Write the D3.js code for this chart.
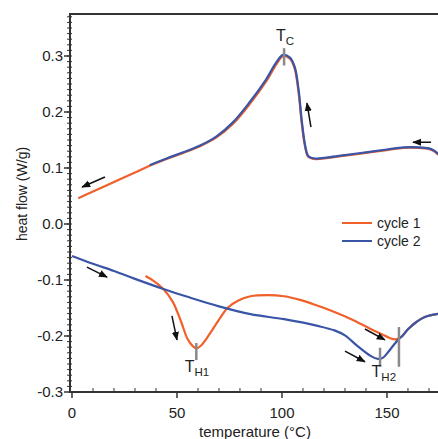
<!DOCTYPE html>
<html><head><meta charset="utf-8">
<script src="https://cdn.jsdelivr.net/npm/d3@7"></script>
<style>body{margin:0;background:#fff}svg{display:block}text{font-family:"Liberation Sans",Arial,sans-serif;fill:#222}</style>
</head><body>
<script>
// ---- data ----
const coolT1 = [3, 10, 20, 30, 37, 45, 53, 61, 69, 76.7, 84.8, 92.7, 97.5, 100.6, 103.8, 106, 107.8, 109.4, 111, 112.5, 115.7, 122, 130, 140, 150, 158, 165, 170, 172.5, 175];
const coolV1 = [0.046, 0.058, 0.075, 0.092, 0.104, 0.116, 0.127, 0.139, 0.155, 0.179, 0.215, 0.256, 0.286, 0.300, 0.295, 0.278, 0.238, 0.18, 0.138, 0.12, 0.116, 0.118, 0.122, 0.127, 0.132, 0.136, 0.136, 0.134, 0.13, 0.122];
const coolT2 = [37, 45, 53, 61, 69, 76.5, 84.5, 92.4, 97.2, 100.5, 103.8, 106.1, 107.9, 109.5, 111.1, 112.6, 115.7, 122, 130, 140, 150, 158, 165, 170, 172.5, 175];
const coolV2 = [0.105, 0.117, 0.128, 0.140, 0.157, 0.181, 0.217, 0.258, 0.288, 0.302, 0.297, 0.280, 0.240, 0.182, 0.139, 0.121, 0.117, 0.119, 0.123, 0.128, 0.133, 0.137, 0.137, 0.135, 0.131, 0.123];
const heatT1 = [35, 39, 43.5, 48, 52, 55, 57.5, 59.3, 61.5, 64, 67, 70.5, 74, 79, 85, 93, 101, 109, 117, 125, 133, 142, 147, 151, 154, 157, 160, 164, 168, 175];
const heatV1 = [-0.093, -0.102, -0.116, -0.139, -0.175, -0.205, -0.218, -0.222, -0.217, -0.205, -0.188, -0.168, -0.150, -0.137, -0.129, -0.127, -0.129, -0.136, -0.146, -0.157, -0.170, -0.187, -0.196, -0.203, -0.206, -0.201, -0.188, -0.175, -0.166, -0.16];
const heatT2 = [0, 10, 20, 30, 43.5, 55, 70, 85, 101, 117, 125, 130, 136, 142.4, 145.7, 148, 150.5, 153, 155.5, 157, 160, 164, 168, 175];
const heatV2 = [-0.057, -0.071, -0.084, -0.098, -0.116, -0.13, -0.147, -0.161, -0.170, -0.182, -0.19, -0.199, -0.218, -0.236, -0.241, -0.239, -0.229, -0.217, -0.206, -0.201, -0.188, -0.175, -0.166, -0.16];
const yMajor = [-0.3, -0.2, -0.1, 0.0, 0.1, 0.2, 0.3];
const yLabels = ["-0.3", "-0.2", "-0.1", "0.0", "0.1", "0.2", "0.3"];
const xMajor = [0, 50, 100, 150];
const xLabels = ["0", "50", "100", "150"];
// arrows: [tailT, tailV, headT, headV]
const arrows = [
  [15.7, 0.084, 4.8, 0.066],
  [113.8, 0.173, 111.9, 0.216],
  [171, 0.146, 162.4, 0.146],
  [7.1, -0.077, 16.7, -0.095],
  [47.6, -0.164, 50, -0.207],
  [139.5, -0.1875, 149, -0.207],
  [130, -0.227, 139.5, -0.246]
];
// marker bars: [T, v0, v1]
const markers = [
  [101, 0.283, 0.314],
  [59.2, -0.2125, -0.243],
  [146.7, -0.221, -0.255],
  [155.7, -0.184, -0.255]
];
const markerLabels = [
  {t: 101.5, v: 0.327, main: "T", sub: "C"},
  {t: 59.5, v: -0.265, main: "T", sub: "H1"},
  {t: 148.5, v: -0.274, main: "T", sub: "H2"}
];
const seriesNames = ["cycle 1", "cycle 2"];
const colors = ["#f0602a", "#3b55a6"];

// ---- chart ----
const W = 438, H = 439;
const svg = d3.select("body").append("svg").attr("width", W).attr("height", H);
const x = d3.scaleLinear().domain([-0.95, 174.3]).range([70, 438]);
const y = d3.scaleLinear().domain([-0.3, 0.375]).range([392, 14]);

const defs = svg.append("defs");
defs.append("marker").attr("id", "ah").attr("viewBox", "0 0 10 10").attr("refX", 9).attr("refY", 5)
  .attr("markerWidth", 6).attr("markerHeight", 6).attr("orient", "auto")
  .append("path").attr("d", "M0,1 L10,5 L0,9 Z").attr("fill", "#111");
defs.append("clipPath").attr("id", "clip").append("rect").attr("x", 70).attr("y", 14).attr("width", 368).attr("height", 378);

const line = d3.line().x(d => x(d[0])).y(d => y(d[1])).curve(d3.curveCatmullRom.alpha(0.5));
const g = svg.append("g").attr("clip-path", "url(#clip)");
const zip = (a, b) => a.map((v, i) => [v, b[i]]);
g.append("path").attr("d", line(zip(coolT1, coolV1))).attr("fill", "none").attr("stroke", colors[0]).attr("stroke-width", 2.2);
g.append("path").attr("d", line(zip(heatT1, heatV1))).attr("fill", "none").attr("stroke", colors[0]).attr("stroke-width", 2.2);
g.append("path").attr("d", line(zip(coolT2, coolV2))).attr("fill", "none").attr("stroke", colors[1]).attr("stroke-width", 2.2);
g.append("path").attr("d", line(zip(heatT2, heatV2))).attr("fill", "none").attr("stroke", colors[1]).attr("stroke-width", 2.2);

// markers
svg.selectAll(".mk").data(markers).enter().append("line")
  .attr("x1", d => x(d[0])).attr("x2", d => x(d[0])).attr("y1", d => y(d[1])).attr("y2", d => y(d[2]))
  .attr("stroke", "#8a8a8a").attr("stroke-width", 2.5);
markerLabels.forEach(m => {
  const t = svg.append("text").attr("x", x(m.t)).attr("y", y(m.v)).attr("text-anchor", "middle").attr("font-size", 16);
  t.append("tspan").text(m.main);
  t.append("tspan").attr("font-size", 11.5).attr("dy", 4).text(m.sub);
});

// arrows
svg.selectAll(".ar").data(arrows).enter().append("line")
  .attr("x1", d => x(d[0])).attr("y1", d => y(d[1])).attr("x2", d => x(d[2])).attr("y2", d => y(d[3]))
  .attr("stroke", "#111").attr("stroke-width", 1.5).attr("marker-end", "url(#ah)");

// axes
const ax = svg.append("g").attr("stroke", "#333");
ax.append("line").attr("x1", 70).attr("x2", 438).attr("y1", 14).attr("y2", 14).attr("stroke-width", 2);
ax.append("line").attr("x1", 70).attr("x2", 70).attr("y1", 13).attr("y2", 393).attr("stroke-width", 2);
ax.append("line").attr("x1", 69).attr("x2", 438).attr("y1", 392).attr("y2", 392).attr("stroke-width", 2);
// y minor ticks
const yMinor = d3.range(-29, 38).map(i => i / 100);
ax.selectAll(".ymn").data(yMinor).enter().append("line")
  .attr("x1", 67).attr("x2", 72).attr("y1", d => y(d)).attr("y2", d => y(d)).attr("stroke-width", 1);
ax.selectAll(".ymj").data(yMajor).enter().append("line")
  .attr("x1", 64).attr("x2", 70).attr("y1", d => y(d)).attr("y2", d => y(d)).attr("stroke-width", 1.5);
// x minor
const xMinor = d3.range(10, 180, 10).filter(v => v % 50 !== 0);
ax.selectAll(".xmn").data(xMinor).enter().append("line")
  .attr("x1", d => x(d)).attr("x2", d => x(d)).attr("y1", 388).attr("y2", 392).attr("stroke-width", 1);
ax.selectAll(".xmj").data(xMajor).enter().append("line")
  .attr("x1", d => x(d)).attr("x2", d => x(d)).attr("y1", 392).attr("y2", 398).attr("stroke-width", 1.5);

svg.selectAll(".yl").data(yMajor).enter().append("text")
  .attr("x", 63).attr("y", d => y(d) + 5).attr("text-anchor", "end").attr("font-size", 15)
  .text((d, i) => yLabels[i]);
svg.selectAll(".xl").data(xMajor).enter().append("text")
  .attr("x", d => x(d)).attr("y", 418).attr("text-anchor", "middle").attr("font-size", 15)
  .text((d, i) => xLabels[i]);
svg.append("text").attr("x", 255).attr("y", 437).attr("text-anchor", "middle").attr("font-size", 15).text("temperature (°C)");
svg.append("text").attr("transform", "translate(27,194) rotate(-90)").attr("text-anchor", "middle").attr("font-size", 14).text("heat flow (W/g)");

// legend
seriesNames.forEach((s, i) => {
  const ly = 223 + i * 18;
  svg.append("line").attr("x1", 342).attr("x2", 372).attr("y1", ly).attr("y2", ly).attr("stroke", colors[i]).attr("stroke-width", 2);
  svg.append("text").attr("x", 377).attr("y", ly + 5).attr("font-size", 14).text(s);
});
</script>
</body></html>
